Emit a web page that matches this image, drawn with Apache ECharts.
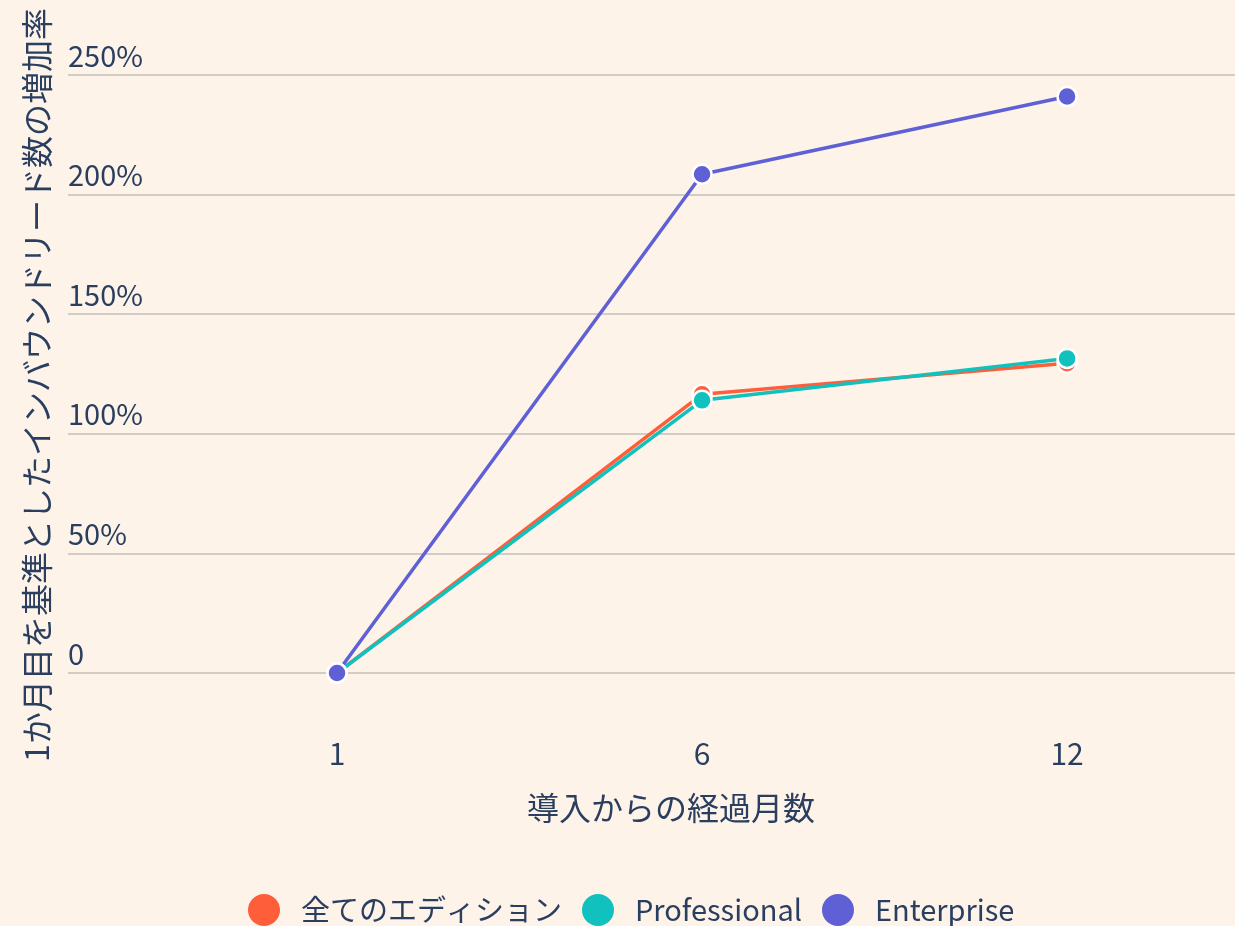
<!DOCTYPE html>
<html>
<head>
<meta charset="utf-8">
<script src="https://cdn.jsdelivr.net/npm/echarts@6/dist/echarts.min.js"></script>
<style>
  html, body { margin: 0; padding: 0; background: #fdf3e9; }
  #chart { width: 1235px; height: 926px; }
</style>
</head>
<body>
<div id="chart"></div>
<script>
// 横軸のカテゴリ（導入からの経過月数）
const months = ['1', '6', '12']
const seriesNames = ['全てのエディション', 'Professional', 'Enterprise']
// 1か月目を基準とした増加率（%）
const allEditions = [0, 116.5, 129.5]
const professional = [0, 114, 131.5]
const enterprise = [0, 208.5, 241]
const yTicks = [0, 50, 100, 150, 200, 250]

const colors = ['#ff5e3a', '#10c1be', '#5f5fd6']
const textColor = '#2a3f5f'
const font = '"Noto Sans CJK JP", "Noto Sans", sans-serif'

const chart = echarts.init(document.getElementById('chart'))

function toPoints(values) {
  return values.map((v, i) => [i, v])
}

const option = {
  backgroundColor: '#fdf3e9',
  textStyle: { fontFamily: font, color: textColor },
  grid: { left: 68, right: 0, top: 75, bottom: 253 },
  xAxis: {
    type: 'value',
    min: -0.737,
    max: 2.46,
    axisLine: { show: false },
    axisTick: { show: false },
    splitLine: { show: false },
    axisLabel: {
      customValues: months.map((m, i) => i),
      formatter: (v) => months[Math.round(v)],
      margin: 66,
      fontSize: 30,
      color: textColor,
      fontFamily: font
    }
  },
  yAxis: {
    type: 'value',
    min: yTicks[0],
    max: yTicks[yTicks.length - 1],
    interval: 50,
    axisLine: { show: false },
    axisTick: { show: false },
    splitLine: { lineStyle: { color: '#d1ccc6', width: 2 } },
    axisLabel: {
      inside: true,
      margin: 0,
      align: 'left',
      verticalAlign: 'bottom',
      padding: [0, 0, 5, 0],
      fontSize: 29,
      color: textColor,
      fontFamily: font,
      formatter: (v) => (v === 0 ? '0' : v + '%')
    }
  },
  legend: {
    top: 889,
    left: 243,
    icon: 'circle',
    itemWidth: 32,
    itemHeight: 32,
    itemGap: 20,
    itemStyle: { borderWidth: 0 },
    textStyle: { fontSize: 29, color: textColor, fontFamily: font, padding: [0, 0, 0, 16] },
    data: seriesNames
  },
  // 軸タイトル
  graphic: [
    {
      type: 'text',
      x: 671,
      y: 808,
      style: {
        text: '導入からの経過月数',
        font: '32px ' + font,
        fill: textColor,
        align: 'center',
        verticalAlign: 'middle'
      }
    },
    {
      type: 'text',
      x: 37,
      y: 385,
      rotation: Math.PI / 2,
      style: {
        text: '1か月目を基準としたインバウンドリード数の増加率',
        font: '32px ' + font,
        fill: textColor,
        align: 'center',
        verticalAlign: 'middle'
      }
    }
  ],
  series: [
    { name: seriesNames[0], data: toPoints(allEditions), color: colors[0] },
    { name: seriesNames[1], data: toPoints(professional), color: colors[1] },
    { name: seriesNames[2], data: toPoints(enterprise), color: colors[2] }
  ].map((s) => ({
    ...s,
    type: 'line',
    symbol: 'circle',
    symbolSize: 19,
    clip: false,
    lineStyle: { width: 3.5 },
    itemStyle: { color: s.color, borderColor: '#fff', borderWidth: 2.5 },
    emphasis: { disabled: true }
  }))
}

chart.setOption(option)
</script>
</body>
</html>
